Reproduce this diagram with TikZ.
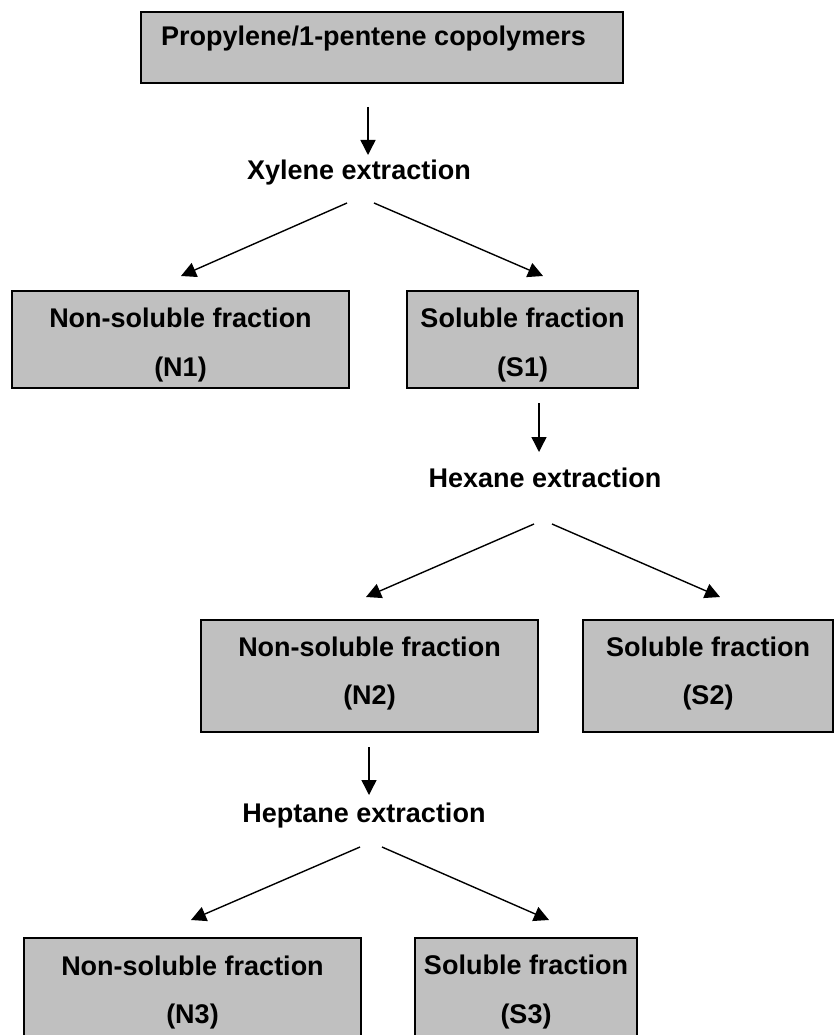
\documentclass[tikz,border=0pt]{standalone}
\usepackage{fontspec}
\setmainfont{Liberation Sans}
\usetikzlibrary{arrows.meta}
\definecolor{boxgray}{HTML}{C0C0C0}
\tikzset{
  box/.style={draw=black, fill=boxgray, line width=2.2pt, inner sep=0pt, outer sep=0pt, anchor=north west},
  lbl/.style={font=\fontsize{27}{31}\selectfont\bfseries, inner sep=0pt, anchor=base},
  arr/.style={line width=1.4pt, -{Triangle[length=15pt,width=15pt]}}
}
\begin{document}
\begin{tikzpicture}[x=1pt,y=-1pt]
\useasboundingbox (0,0) rectangle (835,1035);
\clip (0,0) rectangle (835,1035);
% boxes
\node[box, minimum width=482pt, minimum height=71pt] (top) at (141,12) {};
\node[box, minimum width=337pt, minimum height=97pt] (n1) at (12,291) {};
\node[box, minimum width=231pt, minimum height=97pt] (s1) at (407,291) {};
\node[box, minimum width=337pt, minimum height=112pt] (n2) at (201,620) {};
\node[box, minimum width=250pt, minimum height=112pt] (s2) at (583,620) {};
\node[box, minimum width=337pt, minimum height=112pt] (n3) at (24,938) {};
\node[box, minimum width=222pt, minimum height=112pt] (s3) at (415,938) {};
% box texts
\node[lbl] (toptxt) at (373.5,46) {Propylene/1-pentene copolymers};
\node[lbl] (n1a) at ([yshift=-36pt]n1.north) {Non-soluble fraction};
\node[lbl] (n1b) at ([yshift=-85pt]n1.north) {(N1)};
\node[lbl] (s1a) at ([yshift=-36pt]s1.north) {Soluble fraction};
\node[lbl] (s1b) at ([yshift=-85pt]s1.north) {(S1)};
\node[lbl] (n2a) at ([yshift=-36pt]n2.north) {Non-soluble fraction};
\node[lbl] (n2b) at ([yshift=-84pt]n2.north) {(N2)};
\node[lbl] (s2a) at ([yshift=-36pt]s2.north) {Soluble fraction};
\node[lbl] (s2b) at ([yshift=-84pt]s2.north) {(S2)};
\node[lbl] (n3a) at ([yshift=-37pt]n3.north) {Non-soluble fraction};
\node[lbl] (n3b) at ([yshift=-85pt]n3.north) {(N3)};
\node[lbl] (s3a) at ([yshift=-36pt]s3.north) {Soluble fraction};
\node[lbl] (s3b) at ([yshift=-85pt]s3.north) {(S3)};
% extraction labels
\node[lbl] (xyl) at (359,179) {Xylene extraction};
\node[lbl] (hex) at (545,487) {Hexane extraction};
\node[lbl] (hep) at (364,822) {Heptane extraction};
% connector end points
\coordinate (a1s) at (368,107); \coordinate (a1e) at (368,155);
\coordinate (xls) at (347,203); \coordinate (xle) at (181,276);
\coordinate (xrs) at (374,203); \coordinate (xre) at (543,276);
\coordinate (a2s) at (539,403); \coordinate (a2e) at (539,452);
\coordinate (hls) at (534,524); \coordinate (hle) at (366,597);
\coordinate (hrs) at (552,524); \coordinate (hre) at (720,597);
\coordinate (a3s) at (369,747); \coordinate (a3e) at (369,795);
\coordinate (pls) at (360,847); \coordinate (ple) at (191,920);
\coordinate (prs) at (382,847); \coordinate (pre) at (549,920);
% connectors
\draw[arr] (a1s) -- (a1e);
\draw[arr] (xls) -- (xle);
\draw[arr] (xrs) -- (xre);
\draw[arr] (a2s) -- (a2e);
\draw[arr] (hls) -- (hle);
\draw[arr] (hrs) -- (hre);
\draw[arr] (a3s) -- (a3e);
\draw[arr] (pls) -- (ple);
\draw[arr] (prs) -- (pre);
\end{tikzpicture}
\end{document}
